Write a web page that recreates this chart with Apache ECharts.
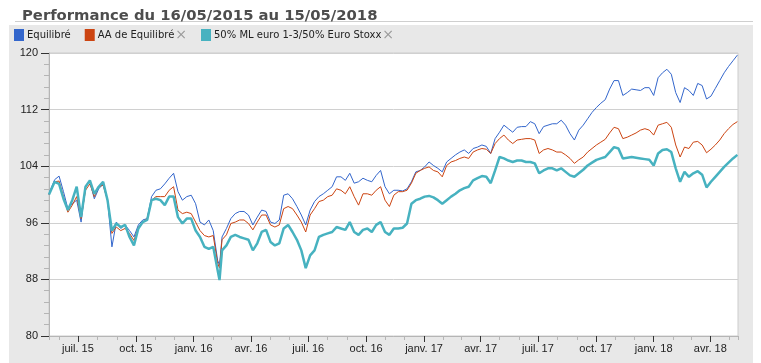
<!DOCTYPE html>
<html><head><meta charset="utf-8">
<script src="https://cdn.jsdelivr.net/npm/echarts@6/dist/echarts.min.js"></script>
<style>html,body{margin:0;padding:0;background:#fff}#c{width:761px;height:363px}</style>
</head><body><div id="c"></div>
<script>
const dates = [
'2015-05-16',
'2015-05-18','2015-05-25','2015-06-01','2015-06-08','2015-06-15','2015-06-22','2015-06-29','2015-07-06','2015-07-13','2015-07-20',
'2015-07-27','2015-08-03','2015-08-10','2015-08-17','2015-08-24','2015-08-31','2015-09-07','2015-09-14','2015-09-21','2015-09-28',
'2015-10-05','2015-10-12','2015-10-19','2015-10-26','2015-11-02','2015-11-09','2015-11-16','2015-11-23','2015-11-30','2015-12-07',
'2015-12-14','2015-12-21','2015-12-28','2016-01-04','2016-01-11','2016-01-18','2016-01-25','2016-02-01',
'2016-02-08','2016-02-11',
'2016-02-15','2016-02-22','2016-02-29','2016-03-07','2016-03-14','2016-03-21','2016-03-28','2016-04-04','2016-04-11','2016-04-18','2016-04-25',
'2016-05-02','2016-05-09','2016-05-16','2016-05-23','2016-05-30','2016-06-06','2016-06-13','2016-06-20','2016-06-27','2016-07-04',
'2016-07-11','2016-07-18','2016-07-25','2016-08-01','2016-08-08','2016-08-15','2016-08-22','2016-08-29','2016-09-05','2016-09-12',
'2016-09-19','2016-09-26','2016-10-03','2016-10-10','2016-10-17','2016-10-24','2016-10-31','2016-11-07','2016-11-14','2016-11-21','2016-11-28',
'2016-12-05','2016-12-12','2016-12-19','2016-12-26','2017-01-02','2017-01-09','2017-01-16','2017-01-23','2017-01-30','2017-02-06',
'2017-02-13','2017-02-20','2017-02-27','2017-03-06','2017-03-13','2017-03-20','2017-03-27','2017-04-03','2017-04-10','2017-04-17',
'2017-04-24','2017-05-01','2017-05-08','2017-05-15','2017-05-22','2017-05-29','2017-06-05','2017-06-12','2017-06-19','2017-06-26',
'2017-07-03','2017-07-10','2017-07-17','2017-07-24','2017-07-31','2017-08-07','2017-08-14','2017-08-21',
'2017-08-28','2017-09-04','2017-09-11','2017-09-18','2017-09-25','2017-10-02','2017-10-09','2017-10-16','2017-10-23','2017-10-30',
'2017-11-06','2017-11-13','2017-11-20','2017-11-27','2017-12-04','2017-12-11','2017-12-18','2017-12-25','2018-01-01','2018-01-08',
'2018-01-15','2018-01-22','2018-01-29','2018-02-05','2018-02-12','2018-02-19','2018-02-26','2018-03-05','2018-03-12','2018-03-19',
'2018-03-26','2018-04-02','2018-04-09','2018-04-16','2018-04-23','2018-04-30','2018-05-07','2018-05-14'
];

const equilibre = [
100.0,
100.6,102.1,102.6,100.4,98.0,98.7,99.2,96.1,101.1,101.8,
99.4,100.8,101.5,99.2,92.6,96.1,95.2,95.7,94.9,94.0,
95.7,96.4,96.6,99.7,100.6,100.8,101.5,102.3,103.0,100.4,
99.2,99.7,99.9,98.7,96.1,95.7,96.4,94.9,
90.7,90.0,
94.0,95.2,96.6,97.3,97.6,97.6,97.1,95.7,96.8,97.8,97.6,
96.1,95.9,96.4,99.9,100.1,99.4,98.3,97.1,95.7,97.8,
99.0,99.7,100.1,100.6,101.1,102.5,102.5,102.0,103.0,101.6,
101.8,102.3,102.0,101.8,102.7,103.4,101.1,100.1,100.6,100.6,100.5,
100.8,101.8,103.2,103.4,103.9,104.6,104.1,103.7,103.2,104.6,
105.1,105.6,106.0,106.3,105.8,106.5,106.7,107.0,106.8,105.8,
107.9,108.8,109.8,109.3,108.8,109.5,109.6,109.6,110.3,110.0,
108.6,109.6,109.8,110.0,110.0,110.5,109.8,108.6,
107.7,109.1,109.8,110.7,111.6,112.3,112.9,113.4,114.9,116.1,
116.1,114.0,114.4,114.9,114.8,114.7,115.1,115.1,114.0,116.5,
117.2,117.7,117.0,114.4,113.0,115.1,114.7,114.0,115.7,115.4,
113.5,113.9,115.0,116.1,117.2,118.1,118.9,119.7
];

const aaEquilibre = [
100.0,
100.4,101.8,101.9,99.7,97.5,98.5,99.7,96.6,100.6,101.5,
99.7,101.1,101.3,99.2,94.5,95.4,94.9,95.2,94.5,93.5,
95.4,96.1,96.6,99.2,99.7,99.7,99.7,100.6,101.1,97.8,
97.3,97.5,97.3,96.1,94.9,94.2,94.0,94.2,
90.3,89.6,
93.6,94.3,95.9,96.1,96.4,96.4,95.9,95.0,96.1,97.1,97.1,
95.7,95.4,95.7,98.0,98.3,98.0,97.1,96.1,94.7,97.1,
98.0,99.0,99.2,99.7,99.9,100.8,100.6,100.1,101.1,99.7,
98.5,100.1,100.1,99.9,100.6,101.1,99.2,98.3,99.9,100.4,100.4,
100.6,101.6,103.0,103.4,103.7,103.9,103.4,103.2,102.5,104.1,
104.6,104.8,105.1,105.3,105.1,106.0,106.3,106.5,106.4,105.8,
107.2,107.9,108.4,107.7,107.2,107.7,107.8,107.9,107.9,107.7,
105.8,106.3,106.5,106.3,106.0,106.0,105.6,105.1,
104.4,104.9,105.3,106.0,106.5,107.0,107.4,107.8,108.7,109.5,
109.3,107.9,108.1,108.4,108.7,109.1,109.3,109.1,108.4,109.8,
110.0,110.2,109.5,107.0,105.3,106.7,106.5,107.4,107.5,107.0,
105.9,106.4,107.0,107.7,108.6,109.3,109.9,110.3
];

const indice = [
100.0,
100.4,101.8,101.5,99.4,97.8,99.2,101.1,96.8,101.1,102.0,
100.1,101.1,101.8,99.2,94.9,95.9,95.4,95.7,94.0,92.8,
95.2,96.1,96.4,99.2,99.4,99.2,98.5,99.7,99.7,96.8,
95.9,96.6,96.6,94.9,94.0,92.6,92.3,92.6,
89.3,87.9,
92.1,92.8,94.0,94.3,94.0,93.8,93.6,92.1,93.1,94.7,95.0,
93.3,92.8,93.1,95.2,95.7,94.7,93.6,92.1,89.6,91.4,
92.1,94.0,94.3,94.5,94.7,95.4,95.2,95.0,96.1,94.7,
94.3,95.0,95.2,94.7,95.7,96.1,94.7,94.3,95.2,95.2,95.3,
95.9,98.7,99.2,99.4,99.7,99.8,99.6,99.2,98.7,99.2,
99.7,100.1,100.6,100.9,101.1,102.0,102.3,102.6,102.5,101.6,
103.4,105.3,105.1,104.8,104.6,104.8,104.8,104.6,104.6,104.4,
103.0,103.4,103.7,103.7,103.4,103.7,103.2,102.7,
102.5,103.0,103.5,104.1,104.5,104.9,105.1,105.3,106.0,106.7,
106.5,105.1,105.2,105.3,105.2,105.1,105.0,104.9,104.1,105.8,
106.3,106.4,106.0,103.7,101.8,103.2,102.5,103.0,103.3,102.8,
101.0,101.8,102.5,103.2,103.9,104.5,105.1,105.6
];

const seriesNames = ['Equilibré', 'AA de Equilibré', '50% ML euro 1-3/50% Euro Stoxx'];
const removable = ['AA de Equilibré', '50% ML euro 1-3/50% Euro Stoxx'];
const titleText = 'Performance du 16/05/2015 au 15/05/2018';
const monthLabels = ['janv.','févr.','mars','avr.','mai','juin','juil.','août','sept.','oct.','nov.','déc.'];
const xMin = '2015-05-16', xMax = '2018-05-15';
const yMin = 80, yMax = 120, yInterval = 8;

const chart = echarts.init(document.getElementById('c'), null, {renderer: 'canvas'});
const pair = arr => dates.map((d, i) => [d, arr[i]]);
const axisFont = 'Liberation Sans, Arial, sans-serif';

chart.setOption({
  animation: false,
  backgroundColor: '#ffffff',
  title: {
    text: titleText, left: 17, top: 4,
    textStyle: {fontFamily: 'DejaVu Sans', fontSize: 14.8, fontWeight: 'bold', color: '#4d4d4d'}
  },
  graphic: [
    {type: 'line', z: -10, shape: {x1: 15, y1: 21.5, x2: 753, y2: 21.5}, style: {stroke: '#cfcfcf', lineWidth: 1}},
    {type: 'rect', z: -10, shape: {x: 9, y: 25, width: 744, height: 338}, style: {fill: '#e8e8e8'}}
  ],
  legend: {
    data: seriesNames, left: 14, top: 28, padding: 0, icon: 'rect', itemWidth: 10, itemHeight: 12, itemGap: 14,
    selectedMode: false,
    formatter: name => removable.includes(name) ? name + '{x|×}' : name,
    textStyle: {fontFamily: 'DejaVu Sans', fontSize: 10, color: '#222', padding: [0, 0, 0, -2],
      rich: {x: {fontFamily: 'DejaVu Sans', fontSize: 14, color: '#9a9a9a', padding: [0, 0, 0, 1]}}}
  },
  grid: {left: 49, right: 23, top: 53, bottom: 27, show: true, backgroundColor: '#ffffff', borderColor: '#cccccc', borderWidth: 1},
  xAxis: [
    {
      type: 'time', position: 'bottom', min: xMin, max: xMax, splitNumber: 34,
      axisLine: {show: false}, splitLine: {show: false},
      axisTick: {show: true, length: 4, lineStyle: {color: '#b5b5b5'}},
      axisLabel: {show: false}
    },
    {
      type: 'time', position: 'bottom', min: xMin, max: xMax, splitNumber: 10,
      axisLine: {show: true, lineStyle: {color: '#b5b5b5'}},
      splitLine: {show: false},
      axisTick: {show: true, length: 6, lineStyle: {color: '#333'}},
      axisLabel: {
        margin: 7, fontFamily: axisFont, fontSize: 11, color: '#222',
        formatter: v => { const d = new Date(v); if (d.getDate() !== 1) return ''; return monthLabels[d.getMonth()] + ' ' + String(d.getFullYear()).slice(2); }
      }
    }
  ],
  yAxis: {
    type: 'value', min: yMin, max: yMax, interval: yInterval,
    axisLine: {show: true, lineStyle: {color: '#b5b5b5'}},
    axisTick: {show: true, length: 8, lineStyle: {color: '#333'}},
    minorTick: {show: true, splitNumber: 5, length: 5, lineStyle: {color: '#b5b5b5'}},
    splitLine: {show: true, lineStyle: {color: '#d0d0d0'}},
    axisLabel: {margin: 11, fontFamily: axisFont, fontSize: 11, color: '#222'}
  },
  series: [
    {name: seriesNames[0], type: 'line', xAxisIndex: 1, data: pair(equilibre), showSymbol: false, symbol: 'none',
      itemStyle: {color: '#3366cc'}, lineStyle: {color: '#3366cc', width: 1}, z: 3},
    {name: seriesNames[1], type: 'line', xAxisIndex: 1, data: pair(aaEquilibre), showSymbol: false, symbol: 'none',
      itemStyle: {color: '#cc4411'}, lineStyle: {color: '#cc4411', width: 1}, z: 4},
    {name: seriesNames[2], type: 'line', xAxisIndex: 1, data: pair(indice), showSymbol: false, symbol: 'none',
      itemStyle: {color: '#47b2c0'}, lineStyle: {color: '#47b2c0', width: 2.5}, z: 5}
  ]
});
</script></body></html>
